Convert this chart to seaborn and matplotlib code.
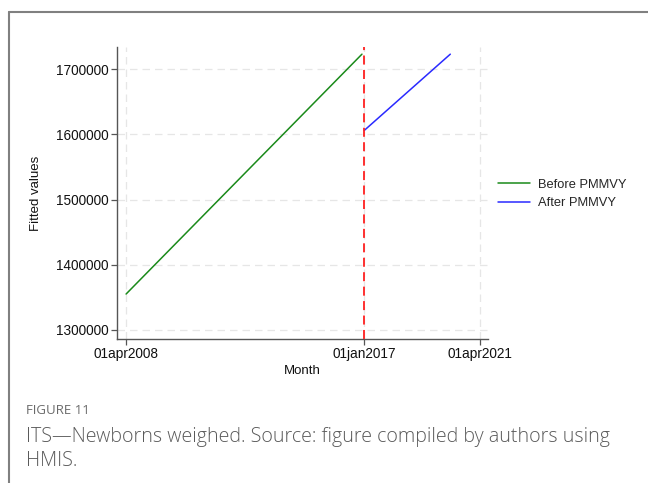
import matplotlib
matplotlib.use("Agg")
import matplotlib.pyplot as plt
from matplotlib.lines import Line2D
import pandas as pd
import seaborn as sns

# Fitted ITS segments (endpoints of each linear fit)
before_months = ["2008-04-01", "2016-12-01"]
before_values = [1355000, 1723000]
after_months = ["2017-01-01", "2020-03-01"]
after_values = [1606000, 1723000]
intervention = "2017-01-01"

x_ticks = ["2008-04-01", "2017-01-01", "2021-04-01"]
x_tick_labels = ["01apr2008", "01jan2017", "01apr2021"]
y_ticks = [1300000, 1400000, 1500000, 1600000, 1700000]

df = pd.concat([
    pd.DataFrame({"Month": pd.to_datetime(before_months), "Fitted": before_values,
                  "Period": "Before PMMVY"}),
    pd.DataFrame({"Month": pd.to_datetime(after_months), "Fitted": after_values,
                  "Period": "After PMMVY"}),
])

sns.set_theme(style="white")
plt.rcParams["font.family"] = ["Liberation Sans", "DejaVu Sans"]

fig = plt.figure(figsize=(6.48, 4.83), dpi=100)
W, H = 648, 483
ax = fig.add_axes([117 / W, 1 - 339 / H, (488 - 117) / W, (339 - 47) / H])

sns.lineplot(data=df, x="Month", y="Fitted", hue="Period",
             palette={"Before PMMVY": "#1a8a1a", "After PMMVY": "#2a2aff"},
             linewidth=1.1, ax=ax, legend=False, estimator=None)

ax.axvline(pd.Timestamp(intervention), color="#ff2020", linestyle=(0, (5, 3)),
           linewidth=1.3, zorder=3)

ax.set_xlim(pd.Timestamp("2007-12-01"), pd.Timestamp("2021-07-20"))
ax.set_ylim(1286000, 1734000)
ax.set_xticks(pd.to_datetime(x_ticks))
ax.set_xticklabels(x_tick_labels)
ax.set_yticks(y_ticks)
ax.set_yticklabels([str(v) for v in y_ticks])

for t in pd.to_datetime(x_ticks):
    ax.axvline(t, color="#e6e6e6", linestyle=(0, (6, 4)), linewidth=0.9, zorder=0)
for v in y_ticks:
    ax.axhline(v, color="#e6e6e6", linestyle=(0, (6, 4)), linewidth=0.9, zorder=0)

for side in ["top", "right"]:
    ax.spines[side].set_visible(False)
for side in ["left", "bottom"]:
    ax.spines[side].set_color("#555555")
    ax.spines[side].set_linewidth(1.0)

ax.tick_params(axis="both", which="major", direction="out", length=4, width=0.9,
               color="#555555", labelsize=9.8, labelcolor="#111111", bottom=True, left=True, pad=2)
ax.set_xlabel("Month", fontsize=9.5, color="#111111", labelpad=3)
ax.set_ylabel("Fitted values", fontsize=9.5, color="#111111", labelpad=10)

handles = [Line2D([0], [0], color="#1a8a1a", lw=1.1),
           Line2D([0], [0], color="#2a2aff", lw=1.1)]
fig.legend(handles, ["Before PMMVY", "After PMMVY"], loc="center left",
           bbox_to_anchor=(486 / W, 1 - 194 / H), frameon=False, fontsize=9.3,
           handlelength=2.5, handletextpad=0.6, labelspacing=0.5)

# Outer frame around figure and caption
fig.add_artist(Line2D([9 / W, 9 / W], [0, 1 - 12 / H], transform=fig.transFigure,
                      color="#808080", lw=1.5))
fig.add_artist(Line2D([9 / W, 1], [1 - 12 / H, 1 - 12 / H], transform=fig.transFigure,
                      color="#808080", lw=1.5))

fig.text(26 / W, 1 - 410 / H, "FIGURE 11", fontsize=9.5, color="#6a6a6a",
         family=["Open Sans", "DejaVu Sans"], va="center")
fig.text(26 / W, 1 - 437 / H, "ITS\u2014Newborns weighed. Source: figure compiled by authors using",
         fontsize=14.1, color="#5a5a5a", family=["Open Sans", "DejaVu Sans"],
         weight="light", va="center")
fig.text(26 / W, 1 - 461 / H, "HMIS.", fontsize=14.1, color="#5a5a5a",
         family=["Open Sans", "DejaVu Sans"], weight="light", va="center")

fig.savefig("out.png", dpi=100)
